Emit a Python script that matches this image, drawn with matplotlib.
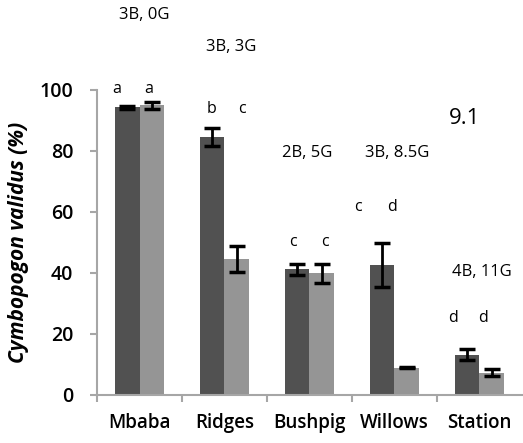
import matplotlib as mpl

mpl.use('Agg')
import matplotlib.pyplot as plt
import numpy as np

plt.rcParams['font.family'] = ['Open Sans', 'DejaVu Sans']

sites = ['Mbaba', 'Ridges', 'Bushpig', 'Willows', 'Station']
dark_vals = [94.4, 84.6, 41.2, 42.5, 13.2]
dark_err = [0.5, 3.0, 1.8, 7.2, 1.8]
light_vals = [95.0, 44.6, 39.9, 9.0, 7.3]
light_err = [1.2, 4.3, 3.1, 0.3, 1.1]

# significance letters (text, x in category units, y in data units)
letters = ['a', 'a', 'b', 'c', 'c', 'c', 'c', 'd', 'd', 'd']
letter_x = [-0.27, 0.11, 0.85, 1.21, 1.81, 2.18, 2.57, 2.97, 3.69, 4.04]
letter_y = [100.3, 100.3, 93.8, 93.8, 50.2, 50.2, 61.6, 61.6, 25.2, 25.2]

notes = ['3B, 0G', '3B, 3G', '2B, 5G', '3B, 8.5G', '4B, 11G']
note_x = [0.05, 1.08, 1.97, 3.03, 4.03]
note_y = [124.6, 114.1, 79.3, 79.3, 40.3]

fig = plt.figure(figsize=(5.23, 4.43), dpi=100)
ax = fig.add_axes([0.1855, 0.1084, 0.8125, 0.6885])

x = np.arange(len(sites))
w = 0.285
err_kw = dict(ecolor='black', elinewidth=2, capsize=6, capthick=2.5)
ax.bar(x - w / 2, dark_vals, w, yerr=dark_err, color='#515151', error_kw=err_kw)
ax.bar(x + w / 2, light_vals, w, yerr=light_err, color='#959595', error_kw=err_kw)

for t, lx, ly in zip(letters, letter_x, letter_y):
    ax.text(lx, ly, t, ha='center', va='center', fontsize=11.5, clip_on=False)
for t, nx, ny in zip(notes, note_x, note_y):
    ax.text(nx, ny, t, ha='center', va='center', fontsize=12, clip_on=False)
ax.text(3.82, 90.8, '9.1', ha='center', va='center', fontsize=16, clip_on=False)

ax.set_xlim(-0.5, 4.5)
ax.set_ylim(0, 100)
ax.set_yticks([0, 20, 40, 60, 80, 100])
ax.set_xticks(x)
ax.set_xticklabels(sites, fontsize=13.5, fontweight='semibold')
ax.set_xticks(np.arange(-0.5, 4.0, 1.0), minor=True)
ax.tick_params(axis='x', which='major', length=0, pad=13)
ax.tick_params(axis='x', which='minor', length=5, width=1.5, color='#a6a6a6', direction='out')
ax.tick_params(axis='y', length=5, width=1.5, color='#a6a6a6', labelsize=14, pad=12)
for lab in ax.get_yticklabels():
    lab.set_fontweight('semibold')

for s in ['top', 'right']:
    ax.spines[s].set_visible(False)
for s in ['left', 'bottom']:
    ax.spines[s].set_color('#a6a6a6')
    ax.spines[s].set_linewidth(1.5)

ax.set_ylabel('Cymbopogon validus (%)', fontsize=15, fontweight='bold', style='italic', labelpad=8)

fig.savefig('out.png', dpi=100)
